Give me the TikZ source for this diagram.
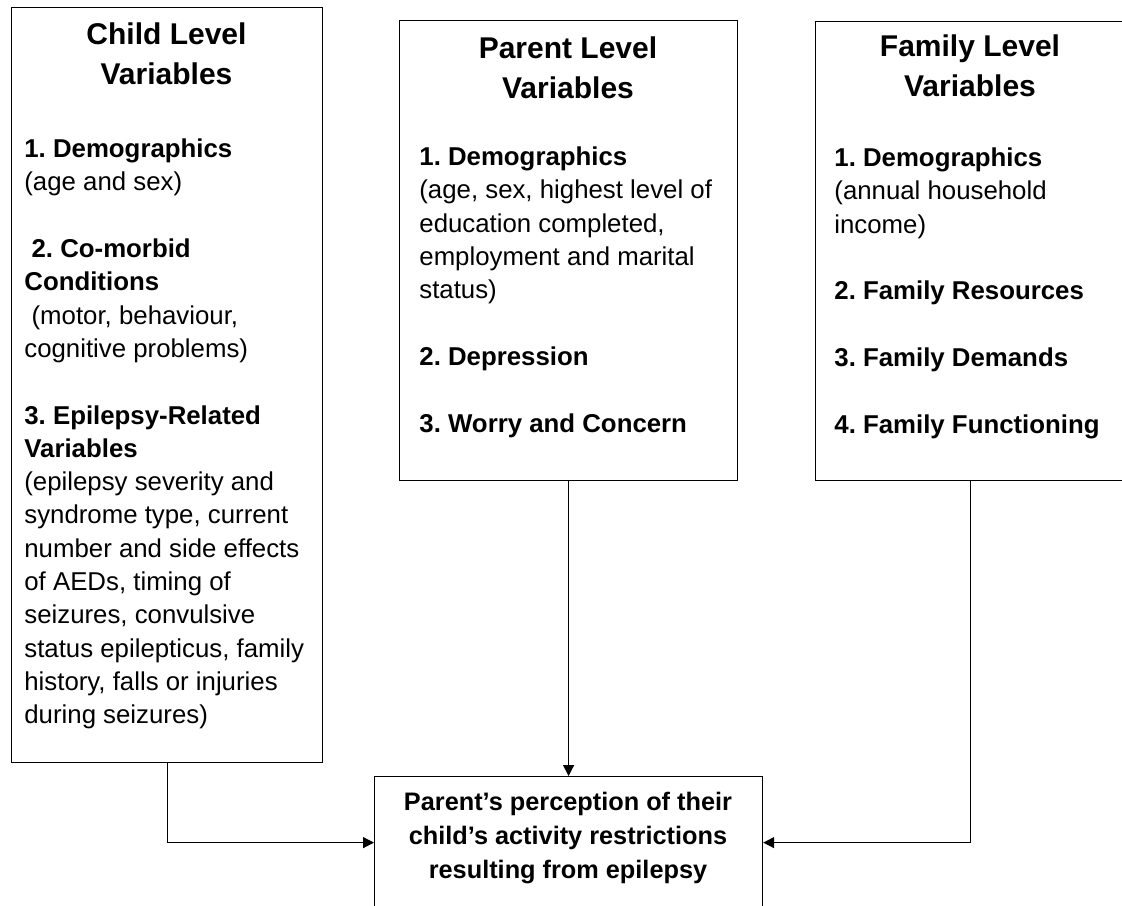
\documentclass[tikz,border=0pt]{standalone}
\usepackage{fontspec}
\setmainfont{Liberation Sans}
\frenchspacing
\usetikzlibrary{arrows.meta}

\begin{document}
\begin{tikzpicture}[x=0.5pt, y=-0.5pt,
    box/.style={draw, line width=0.6pt, inner sep=0pt, anchor=north west},
    title/.style={font=\fontsize{15}{20}\selectfont\bfseries, align=center, inner sep=0pt, anchor=north},
    body/.style={font=\fontsize{12.9}{16.65}\selectfont, align=left, inner sep=0pt, anchor=north west},
    outtext/.style={font=\fontsize{12.65}{17}\selectfont\bfseries, align=center, inner sep=0pt, anchor=north},
    link/.style={line width=0.6pt, -{Triangle[length=5.5pt,width=5.5pt]}}]
    \useasboundingbox (0,0) rectangle (1122,905);
    \clip (0,0) rectangle (1122,905);

    % the four boxes
    \node[box, minimum width=155.5pt, minimum height=377.5pt] (child) at (11,7) {};
    \node[box, minimum width=169pt, minimum height=230pt] (parent) at (399,20) {};
    \node[box, minimum width=155pt, minimum height=229.5pt] (family) at (815,21) {};
    \node[box, minimum width=194pt, minimum height=66pt] (outcome) at (374,776) {};

    % headings
    \node[title] (childtitle) at (166.5,22) {Child Level\\Variables};
    \node[title] (parenttitle) at (568,36) {Parent Level\\Variables};
    \node[title] (familytitle) at (970,34) {Family Level\\Variables};

    % contents
    \node[body] (childtext) at (24,138.5) {\textbf{1. Demographics}\\
        (age and sex)\\[16.65pt]
        \hspace*{.28em}\textbf{2. Co-morbid}\\
        \textbf{Conditions}\\
        \hspace*{.28em}(motor, behaviour,\\
        cognitive problems)\\[16.65pt]
        \textbf{3. Epilepsy-Related}\\
        \textbf{Variables}\\
        (epilepsy severity and\\
        syndrome type, current\\
        number and side effects\\
        of AEDs, timing of\\
        seizures, convulsive\\
        status epilepticus, family\\
        history, falls or injuries\\
        during seizures)};
    \node[body] (parenttext) at (419,146.5) {\textbf{1. Demographics}\\
        (age, sex, highest level of\\
        education completed,\\
        employment and marital\\
        status)\\[16.65pt]
        \textbf{2. Depression}\\[16.65pt]
        \textbf{3. Worry and Concern}};
    \node[body] (familytext) at (834,147.5) {\textbf{1. Demographics}\\
        (annual household\\
        income)\\[16.65pt]
        \textbf{2. Family Resources}\\[16.65pt]
        \textbf{3. Family Demands}\\[16.65pt]
        \textbf{4. Family Functioning}};
    \node[outtext] (outcometext) at (568,791.5) {Parent's perception of their\\
        child's activity restrictions\\
        resulting from epilepsy};

    % links
    \draw[link] (child.south) |- (outcome.west);
    \draw[link] (parent.south) -- (outcome.north);
    \draw[link] (family.south) |- (outcome.east);
\end{tikzpicture}
\end{document}
